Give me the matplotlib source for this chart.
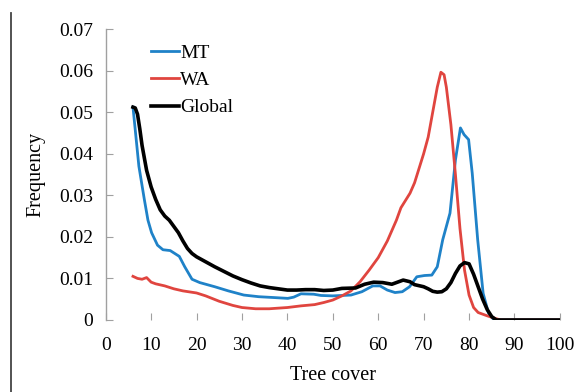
import matplotlib
matplotlib.use("Agg")
import matplotlib.pyplot as plt
from matplotlib.lines import Line2D

mt_x = [6, 7.3, 8.5, 9.3, 10.1, 11.4, 12.6, 14.2, 16.2, 17.4, 19, 20.7, 24, 27, 30.4, 33.7, 37,
        40.1, 41.4, 43, 45.8, 47.4, 50, 54, 56.4, 58.8, 60.4, 62, 63.7, 65.3, 66.9, 68.5, 70.2,
        71.8, 73, 74.2, 75.8, 77, 78.1, 78.9, 79.9, 80.7, 81.9, 83.1, 84.3, 85.5, 90, 100]
mt_y = [0.0512, 0.037, 0.029, 0.024, 0.021, 0.018, 0.0169, 0.0167, 0.0153, 0.0128, 0.0098, 0.009,
        0.008, 0.007, 0.006, 0.0056, 0.0054, 0.0052, 0.0055, 0.0063, 0.0062, 0.0059, 0.0058, 0.006,
        0.0068, 0.0082, 0.0082, 0.0072, 0.0066, 0.0068, 0.008, 0.0104, 0.0107, 0.0108, 0.0128,
        0.0193, 0.0257, 0.0385, 0.0462, 0.0446, 0.0434, 0.0353, 0.0193, 0.0064, 0.0016, 0.0, 0.0, 0.0]

wa_x = [6, 7, 8, 9, 10, 11, 13, 15, 17, 20, 22, 25, 28, 30, 33, 36, 40, 43, 46, 48, 50, 52, 54, 56,
        58, 60, 62, 64, 65, 67, 68, 70, 71, 72, 73, 73.8, 74.5, 75, 76, 77, 78, 79, 80, 81, 82, 84,
        86, 87, 100]
wa_y = [0.0105, 0.0100, 0.0098, 0.0102, 0.0091, 0.0087, 0.0082, 0.0075, 0.0070, 0.0065, 0.0058,
        0.0045, 0.0035, 0.0030, 0.0027, 0.0027, 0.0030, 0.0034, 0.0037, 0.0042, 0.0048, 0.0058,
        0.0070, 0.0092, 0.0120, 0.0150, 0.0190, 0.024, 0.027, 0.0305, 0.033, 0.040, 0.044, 0.050,
        0.056, 0.0596, 0.059, 0.056, 0.047, 0.035, 0.022, 0.012, 0.006, 0.003, 0.0018, 0.001,
        0.0003, 0.0, 0.0]

gl_x = [6, 6.5, 7, 7.5, 8, 9, 10, 11, 12, 13, 14, 15, 16, 17, 18, 19, 20, 22, 24, 26, 28, 30, 32,
        34, 36, 38, 40, 42, 44, 46, 48, 50, 52, 55, 57, 59, 61, 63, 64, 65.5, 67, 68, 70, 71, 72,
        73, 74, 75, 76, 77, 78, 79, 80, 81, 82, 83, 84, 85, 86, 100]
gl_y = [0.0512, 0.051, 0.0495, 0.046, 0.042, 0.036, 0.032, 0.029, 0.0265, 0.025, 0.024, 0.0225,
        0.021, 0.019, 0.0172, 0.016, 0.0152, 0.014, 0.0128, 0.0117, 0.0106, 0.0097, 0.0089, 0.0082,
        0.0078, 0.0075, 0.0072, 0.0072, 0.0073, 0.0073, 0.0071, 0.0072, 0.0076, 0.0077, 0.0086,
        0.0091, 0.009, 0.0086, 0.009, 0.0096, 0.0092, 0.0085, 0.0080, 0.0075, 0.0069, 0.0067,
        0.0068, 0.0075, 0.009, 0.0112, 0.013, 0.0138, 0.0135, 0.011, 0.008, 0.005, 0.0025, 0.0008,
        0.0, 0.0]

x_ticks = [0, 10, 20, 30, 40, 50, 60, 70, 80, 90, 100]
y_ticks = [0, 0.01, 0.02, 0.03, 0.04, 0.05, 0.06, 0.07]
y_tick_labels = ["0", "0.01", "0.02", "0.03", "0.04", "0.05", "0.06", "0.07"]

plt.rcParams['font.family'] = ['Liberation Serif', 'DejaVu Serif']
fs = 14
fs_lab = 14.5

fig = plt.figure(figsize=(5.79, 3.92), dpi=100)
ax = fig.add_axes([0.1826, 0.1837, 0.967 - 0.1826, 0.926 - 0.1837])

ax.plot(mt_x, mt_y, color='#1F82C8', lw=2.0, label='MT')
ax.plot(wa_x, wa_y, color='#E0453F', lw=2.0, label='WA')
ax.plot(gl_x, gl_y, color='black', lw=2.6, label='Global')

ax.set_xlim(0, 100)
ax.set_ylim(0, 0.07)
ax.set_xticks(x_ticks)
ax.set_xticklabels([str(t) for t in x_ticks], fontsize=fs)
ax.set_yticks(y_ticks)
ax.set_yticklabels(y_tick_labels, fontsize=fs)
ax.tick_params(axis='both', direction='in', length=5, color='#a0a0a0', pad=9)
ax.tick_params(axis='x', pad=12)

for s in ['top', 'right', 'bottom']:
    ax.spines[s].set_visible(False)
ax.spines['left'].set_color('#a0a0a0')
ax.spines['left'].set_linewidth(1.0)

ax.set_xlabel('Tree cover', fontsize=fs_lab, labelpad=9)
ax.set_ylabel('Frequency', fontsize=fs_lab, labelpad=10)

leg = ax.legend(loc='upper left', bbox_to_anchor=(0.082, 0.975), frameon=False, fontsize=fs,
                handlelength=1.45, handletextpad=0.05, labelspacing=0.5, borderaxespad=0)

fig.add_artist(Line2D([11 / 579, 11 / 579], [0, 1 - 13 / 392], transform=fig.transFigure,
                      color='#444444', lw=1.3))

fig.savefig('out.png', dpi=100)
